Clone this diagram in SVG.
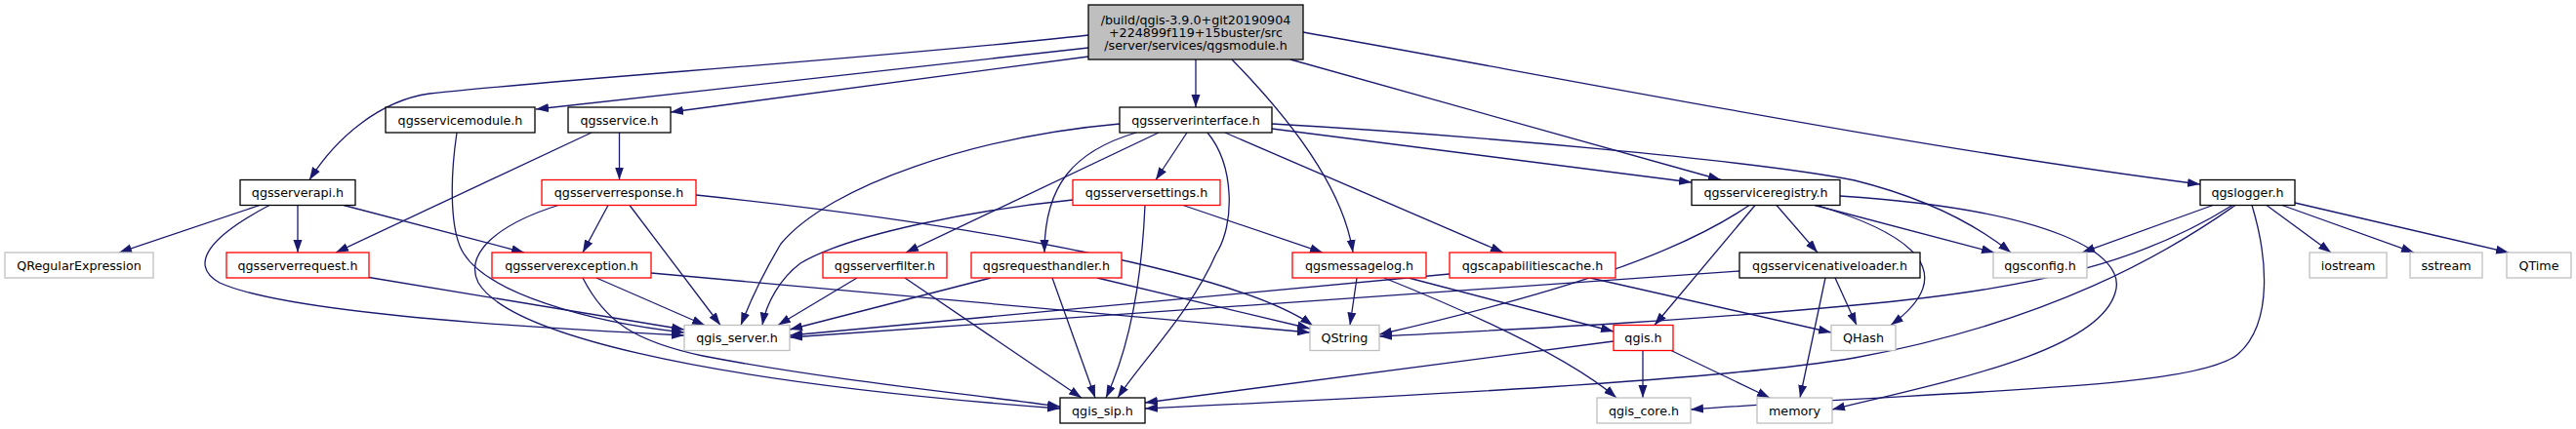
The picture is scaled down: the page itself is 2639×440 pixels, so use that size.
<svg xmlns="http://www.w3.org/2000/svg" width="2639" height="440" viewBox="0 0 2639 440">
<style>
.n rect{fill:#fff;stroke-width:1.3}
.b rect{stroke:#000}
.r rect{stroke:#ff0000}
.g rect{stroke:#bfbfbf}
.root rect{fill:#bfbfbf;stroke:#000}
text{font-family:"DejaVu Sans","Liberation Sans",sans-serif;font-size:12.7px;fill:#000;text-anchor:middle}
#edges path{fill:none;stroke:#191970;stroke-width:1.3;marker-end:url(#a)}
</style>
<defs>
<marker id="a" markerUnits="userSpaceOnUse" markerWidth="13" markerHeight="10" viewBox="0 0 13 10" refX="13" refY="5" orient="auto">
<path d="M0,0.5 L13,5 L0,9.5 z" fill="#191970"/>
</marker>
</defs>
<rect width="2639" height="440" fill="#fff"/>
<g id="edges">
<path d="M1115,36 C900,60 560,82 440,96 C390,103 345,140 317,184.5"/>
<path d="M1115,49 L549,112"/>
<path d="M1115,58 L687,115"/>
<path d="M1225,61 L1225,110"/>
<path d="M1262,61 C1310,110 1375,185 1386,259"/>
<path d="M1322,61 L1763,184.5"/>
<path d="M1335,33 C1600,80 1950,150 2254,189"/>
<path d="M468,136 C460,190 462,240 475,260 C500,300 600,330 701,341"/>
<path d="M634.5,136 L634.5,184.5"/>
<path d="M606,136 L344,259"/>
<path d="M266,210.5 L122,259"/>
<path d="M305,210.5 L305,259"/>
<path d="M352,210.5 L537,259"/>
<path d="M276,210.5 C220,240 190,270 225,290 C280,315 450,332 701,344"/>
<path d="M623,210.5 L597,259"/>
<path d="M645,210.5 L738,333.5"/>
<path d="M572,210.5 C510,230 475,260 490,290 C520,340 700,390 1086,419"/>
<path d="M713,200 C1000,230 1270,280 1345,334"/>
<path d="M378,284.5 L701,338"/>
<path d="M611,285 L722,333.5"/>
<path d="M667,280 L1342,341"/>
<path d="M597,285 C620,330 650,350 720,365 C850,390 1000,405 1086,417"/>
<path d="M1216,136 L1184,184.5"/>
<path d="M1187,136 L928,259"/>
<path d="M1164,136 C1100,155 1070,190 1070,259"/>
<path d="M1147,127 C1000,140 850,190 800,250 C785,275 770,305 759,333.5"/>
<path d="M1237,136 C1265,170 1265,230 1246,260 C1220,320 1170,370 1145,408"/>
<path d="M1255,136 L1540,259"/>
<path d="M1303,132 L1733,187"/>
<path d="M1303,127 C1500,138 1800,165 1900,185 C1980,205 2030,235 2060,259"/>
<path d="M1212,210.5 L1355,259"/>
<path d="M1099,205 C1000,215 870,240 820,270 C800,285 785,310 781,333.5"/>
<path d="M1173,210.5 C1170,280 1160,350 1133,408"/>
<path d="M878,285 L797,333.5"/>
<path d="M927,285 L1108,408"/>
<path d="M1015,285 L809,338"/>
<path d="M1124,285 L1342,337"/>
<path d="M1078,285 L1122,408"/>
<path d="M1390,285 L1383,333.5"/>
<path d="M1443,285 L1653,340"/>
<path d="M1418,285 C1480,310 1600,360 1656,408"/>
<path d="M1485,281 L809,344"/>
<path d="M1629,285 L1876,341"/>
<path d="M1820,210.5 L1862,259"/>
<path d="M1792,210.5 C1720,260 1600,300 1413,343"/>
<path d="M1798,210.5 L1695,333.5"/>
<path d="M1885,201 C2100,215 2180,260 2167,300 C2150,360 2000,390 1877,420"/>
<path d="M1859,210.5 L2043,259"/>
<path d="M1861,210.5 C1960,240 2010,280 1937,333.5"/>
<path d="M1782,278 L809,346"/>
<path d="M1880,285 L1902,333.5"/>
<path d="M1870,285 L1844,408"/>
<path d="M1653,350 L1173,413"/>
<path d="M1683,359.5 L1683,408"/>
<path d="M1712,359.5 L1813,408"/>
<path d="M2267,210.5 L2133,259"/>
<path d="M2322,210.5 L2388,259"/>
<path d="M2338,210.5 L2473,259"/>
<path d="M2351,208 L2570,259"/>
<path d="M2287,210.5 C2200,265 2100,295 1900,313 C1700,332 1500,340 1413,345"/>
<path d="M2290,210.5 C2220,260 2100,330 1900,367 C1750,392 1400,408 1173,419"/>
<path d="M2307,210.5 C2322,260 2330,330 2293,363 C2250,400 2000,400 1732,420"/>
</g>
<g id="node_root" class="n root"><rect x="1115" y="5" width="220" height="56"/><text x="1225" y="24.5">/build/qgis-3.9.0+git20190904</text><text x="1225" y="37.5">+224899f119+15buster/src</text><text x="1225" y="50.5">/server/services/qgsmodule.h</text></g>
<g id="node_qgsservicemodule" class="n b"><rect x="395" y="110" width="153" height="26"/><text x="471.5" y="127.5">qgsservicemodule.h</text></g>
<g id="node_qgsservice" class="n b"><rect x="582" y="110" width="105" height="26"/><text x="634.5" y="127.5">qgsservice.h</text></g>
<g id="node_qgsserverinterface" class="n b"><rect x="1147" y="110" width="156" height="26"/><text x="1225" y="127.5">qgsserverinterface.h</text></g>
<g id="node_qgsserverapi" class="n b"><rect x="246" y="184.5" width="118" height="26"/><text x="305" y="202">qgsserverapi.h</text></g>
<g id="node_qgsserverresponse" class="n r"><rect x="555" y="184.5" width="158" height="26"/><text x="634" y="202">qgsserverresponse.h</text></g>
<g id="node_qgsserversettings" class="n r"><rect x="1099" y="184.5" width="151" height="26"/><text x="1174.5" y="202">qgsserversettings.h</text></g>
<g id="node_qgsserviceregistry" class="n b"><rect x="1733" y="184.5" width="152" height="26"/><text x="1809" y="202">qgsserviceregistry.h</text></g>
<g id="node_qgslogger" class="n b"><rect x="2254" y="184.5" width="97" height="26"/><text x="2302.5" y="202">qgslogger.h</text></g>
<g id="node_QRegularExpression" class="n g"><rect x="5" y="259" width="152" height="26"/><text x="81" y="276.5">QRegularExpression</text></g>
<g id="node_qgsserverrequest" class="n r"><rect x="232" y="259" width="146" height="26"/><text x="305" y="276.5">qgsserverrequest.h</text></g>
<g id="node_qgsserverexception" class="n r"><rect x="504" y="259" width="163" height="26"/><text x="585.5" y="276.5">qgsserverexception.h</text></g>
<g id="node_qgsserverfilter" class="n r"><rect x="843" y="259" width="127" height="26"/><text x="906.5" y="276.5">qgsserverfilter.h</text></g>
<g id="node_qgsrequesthandler" class="n r"><rect x="995" y="259" width="154" height="26"/><text x="1072" y="276.5">qgsrequesthandler.h</text></g>
<g id="node_qgsmessagelog" class="n r"><rect x="1324" y="259" width="137" height="26"/><text x="1392.5" y="276.5">qgsmessagelog.h</text></g>
<g id="node_qgscapabilitiescache" class="n r"><rect x="1485" y="259" width="170" height="26"/><text x="1570" y="276.5">qgscapabilitiescache.h</text></g>
<g id="node_qgsservicenativeloader" class="n b"><rect x="1782" y="259" width="185" height="26"/><text x="1874.5" y="276.5">qgsservicenativeloader.h</text></g>
<g id="node_qgsconfig" class="n g"><rect x="2042" y="259" width="96" height="26"/><text x="2090" y="276.5">qgsconfig.h</text></g>
<g id="node_iostream" class="n g"><rect x="2366" y="259" width="79" height="26"/><text x="2405.5" y="276.5">iostream</text></g>
<g id="node_sstream" class="n g"><rect x="2469" y="259" width="74" height="26"/><text x="2506" y="276.5">sstream</text></g>
<g id="node_QTime" class="n g"><rect x="2568" y="259" width="66" height="26"/><text x="2601" y="276.5">QTime</text></g>
<g id="node_qgis_server" class="n g"><rect x="701" y="333.5" width="108" height="26"/><text x="755" y="351">qgis_server.h</text></g>
<g id="node_QString" class="n g"><rect x="1342" y="333.5" width="71" height="26"/><text x="1377.5" y="351">QString</text></g>
<g id="node_qgis" class="n r"><rect x="1653" y="333.5" width="61" height="26"/><text x="1683.5" y="351">qgis.h</text></g>
<g id="node_QHash" class="n g"><rect x="1876" y="333.5" width="66" height="26"/><text x="1909" y="351">QHash</text></g>
<g id="node_qgis_sip" class="n b"><rect x="1086" y="408" width="87" height="26"/><text x="1129.5" y="425.5">qgis_sip.h</text></g>
<g id="node_qgis_core" class="n g"><rect x="1636" y="408" width="96" height="26"/><text x="1684" y="425.5">qgis_core.h</text></g>
<g id="node_memory" class="n g"><rect x="1800" y="408" width="77" height="26"/><text x="1838.5" y="425.5">memory</text></g>
</svg>
